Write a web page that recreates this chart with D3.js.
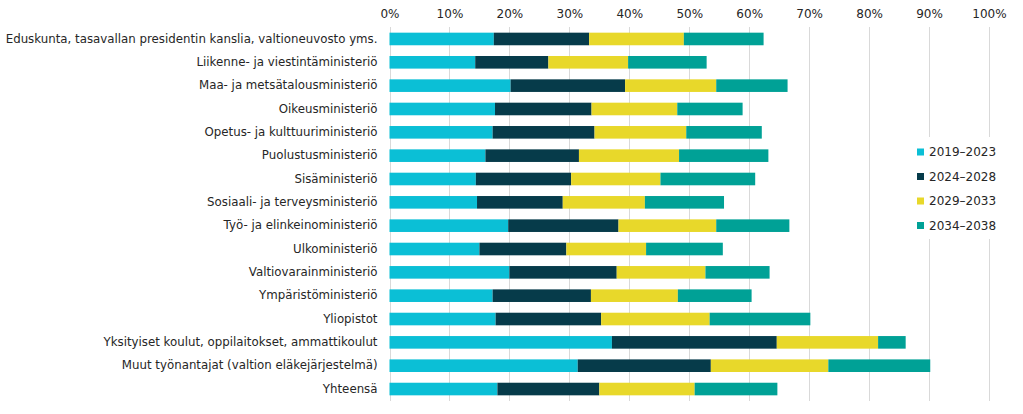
<!DOCTYPE html>
<html><head><meta charset="utf-8">
<script src="https://cdn.jsdelivr.net/npm/d3@7"></script>
<style>
html,body{margin:0;padding:0;background:#fff;}
svg{display:block;font-family:"DejaVu Sans",Verdana,sans-serif;}
</style></head>
<body>
<svg id="chart" width="1023" height="414"></svg>
<script>
const categories = [
  "Eduskunta, tasavallan presidentin kanslia, valtioneuvosto yms.",
  "Liikenne- ja viestintäministeriö",
  "Maa- ja metsätalousministeriö",
  "Oikeusministeriö",
  "Opetus- ja kulttuuriministeriö",
  "Puolustusministeriö",
  "Sisäministeriö",
  "Sosiaali- ja terveysministeriö",
  "Työ- ja elinkeinoministeriö",
  "Ulkoministeriö",
  "Valtiovarainministeriö",
  "Ympäristöministeriö",
  "Yliopistot",
  "Yksityiset koulut, oppilaitokset, ammattikoulut",
  "Muut työnantajat (valtion eläkejärjestelmä)",
  "Yhteensä"
];
const seriesNames = ["2019–2023", "2024–2028", "2029–2033", "2034–2038"];
const s2019 = [17.4, 14.3, 20.2, 17.6, 17.2, 16.0, 14.4, 14.6, 19.8, 15.0, 20.0, 17.2, 17.7, 37.1, 31.4, 18.0];
const s2024 = [15.9, 12.2, 19.1, 16.1, 17.0, 15.6, 15.9, 14.3, 18.4, 14.5, 17.9, 16.4, 17.6, 27.5, 22.2, 17.0];
const s2029 = [15.8, 13.3, 15.2, 14.3, 15.3, 16.7, 14.9, 13.7, 16.3, 13.3, 14.8, 14.5, 18.1, 16.9, 19.6, 15.9];
const s2034 = [13.3, 13.1, 11.9, 10.9, 12.6, 14.9, 15.8, 13.2, 12.2, 12.8, 10.7, 12.3, 16.8, 4.6, 17.0, 13.8];
const tickValues = [0, 10, 20, 30, 40, 50, 60, 70, 80, 90, 100];
const colors = ["#0bbfd6", "#063b4a", "#e8d82a", "#00a196"];

const svg = d3.select("#chart");
const x0 = 389.5, x1 = 989, yTop = 27.3, yBot = 400.7;
const x = d3.scaleLinear().domain([0, 100]).range([x0, x1]);
const y = d3.scaleBand().domain(categories).range([yTop, yBot]).paddingInner(0.46).paddingOuter(0.23);

// gridlines
svg.append("g").selectAll("line").data(tickValues).join("line")
  .attr("x1", d => Math.round(x(d)) + 0.5).attr("x2", d => Math.round(x(d)) + 0.5)
  .attr("y1", 27).attr("y2", 401)
  .attr("stroke", "#d9d9d9").attr("stroke-width", 1);

// top axis labels
const ax = svg.append("g").attr("transform", `translate(0,27)`)
  .call(d3.axisTop(x).tickValues(tickValues).tickFormat(d => d + "%").tickSize(0).tickPadding(9));
ax.select(".domain").remove();
ax.selectAll("text").attr("font-size", 12).attr("fill", "#262626").attr("font-family", "DejaVu Sans, Verdana, sans-serif");

// stacked data
const rows = categories.map((c, i) => ({cat: c, v: [s2019[i], s2024[i], s2029[i], s2034[i]]}));
const stackData = [];
rows.forEach(r => {
  let acc = 0;
  r.v.forEach((val, k) => { stackData.push({cat: r.cat, k, a: acc, b: acc + val}); acc += val; });
});
svg.append("g").selectAll("rect").data(stackData).join("rect")
  .attr("x", d => x(d.a)).attr("width", d => x(d.b) - x(d.a))
  .attr("y", d => y(d.cat)).attr("height", y.bandwidth())
  .attr("fill", d => colors[d.k]);

// category labels
const ay = svg.append("g").attr("transform", `translate(${x0},0)`)
  .call(d3.axisLeft(y).tickSize(0).tickPadding(12));
ay.select(".domain").remove();
ay.selectAll("text").attr("font-size", 11.8).attr("fill", "#262626").attr("font-family", "DejaVu Sans, Verdana, sans-serif");

// legend
const lg = svg.append("g");
lg.append("rect").attr("x", 905).attr("y", 137).attr("width", 110).attr("height", 102).attr("fill", "#fff");
seriesNames.forEach((n, i) => {
  const cy = 152 + i * 24.5;
  lg.append("rect").attr("x", 917).attr("y", cy - 3.5).attr("width", 7).attr("height", 7).attr("fill", colors[i]);
  lg.append("text").attr("x", 929).attr("y", cy).attr("dy", "0.35em")
    .attr("font-size", 12).attr("fill", "#262626").text(n);
});
</script>
</body></html>
